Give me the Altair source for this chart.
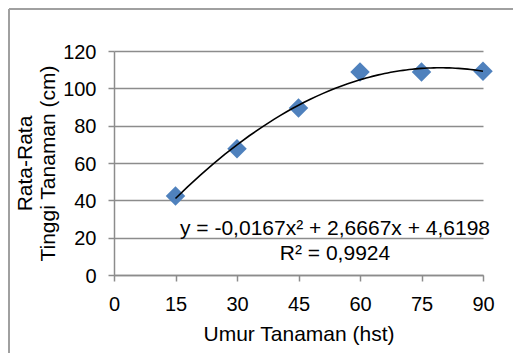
import altair as alt
import pandas as pd

# data
umur = [15, 30, 45, 60, 75, 90]
tinggi = [42.3, 67.6, 89.4, 108.8, 108.8, 109.2]
x_ticks = [0, 15, 30, 45, 60, 75, 90]
y_ticks = [0, 20, 40, 60, 80, 100, 120]
eq_lines = ["y = -0,0167x\u00b2 + 2,6667x + 4,6198", "R\u00b2 = 0,9924"]
x_title = "Umur Tanaman (hst)"
y_title = ["Rata-Rata", "Tinggi Tanaman (cm)"]

df = pd.DataFrame({"umur": umur, "tinggi": tinggi})
ytick_df = pd.DataFrame({"v": y_ticks})
one = pd.DataFrame({"k": [0]})

W, H = 369, 224
FONT = "Liberation Sans"
GRID = "#8C8C8C"
BORDER = "#A0A0A0"

xscale = alt.Scale(domain=[0, 90], nice=False, zero=False)
yscale = alt.Scale(domain=[0, 120], nice=False, zero=False)

xaxis = alt.Axis(values=x_ticks, title=x_title, grid=False)
yaxis = alt.Axis(values=y_ticks, title=y_title, grid=True, labels=False)

base = alt.Chart(df)

points = base.mark_point(
    shape="diamond", filled=True, size=380, color="#4F81BD", opacity=1
).encode(
    x=alt.X("umur:Q", scale=xscale, axis=xaxis),
    y=alt.Y("tinggi:Q", scale=yscale, axis=yaxis),
)

trend = base.transform_regression(
    "umur", "tinggi", method="poly", order=2, extent=[15, 90]
).mark_line(color="black", strokeWidth=1.6).encode(
    x=alt.X("umur:Q", scale=xscale, axis=xaxis),
    y=alt.Y("tinggi:Q", scale=yscale, axis=yaxis),
)

# y tick labels drawn as text through the y scale
ylabels = alt.Chart(ytick_df).mark_text(
    font=FONT, fontSize=20, color="black", align="right", baseline="middle", dy=1.5
).encode(
    y=alt.Y("v:Q", scale=yscale, axis=yaxis),
    x=alt.value(-17.5),
    text=alt.Text("v:Q"),
)

equation = alt.Chart(one).mark_text(
    text=eq_lines, font=FONT, fontSize=21, fontWeight="normal", color="black",
    align="center", baseline="alphabetic", lineHeight=24.5,
).encode(x=alt.value(221), y=alt.value(184))

border_left = alt.Chart(one).mark_rule(color=BORDER, strokeWidth=2).encode(
    x=alt.value(-105), y=alt.value(-42), y2=alt.value(400)
)
border_top = alt.Chart(one).mark_rule(color=BORDER, strokeWidth=2).encode(
    x=alt.value(-105), x2=alt.value(600), y=alt.value(-42)
)

chart = alt.layer(border_left, border_top, points, trend, ylabels, equation).properties(
    width=W, height=H,
    autosize=alt.AutoSizeParams(type="none"),
    padding={"left": 106, "top": 43, "right": 30, "bottom": 78},
    background="white",
).configure_view(
    strokeWidth=0
).configure_axis(
    domainColor=GRID, domainWidth=1.5,
    tickColor=GRID, tickWidth=1.5, tickSize=6,
    gridColor=GRID, gridWidth=1.5,
    labelFont=FONT, labelFontSize=20, labelColor="black",
    labelFlush=False, labelOverlap=False,
    titleFont=FONT, titleFontSize=21, titleColor="black", titleFontWeight="normal",
).configure_axisX(
    labelPadding=13,
    titleX=W / 2, titleY=48, titleBaseline="top", titleAlign="center",
).configure_axisY(
    titleX=-100, titleY=112, titleBaseline="top", titleAlign="center",
    titleAngle=270, titleLineHeight=23.5,
)

chart.save("out.html", embed_options={"renderer": "svg", "actions": False})
